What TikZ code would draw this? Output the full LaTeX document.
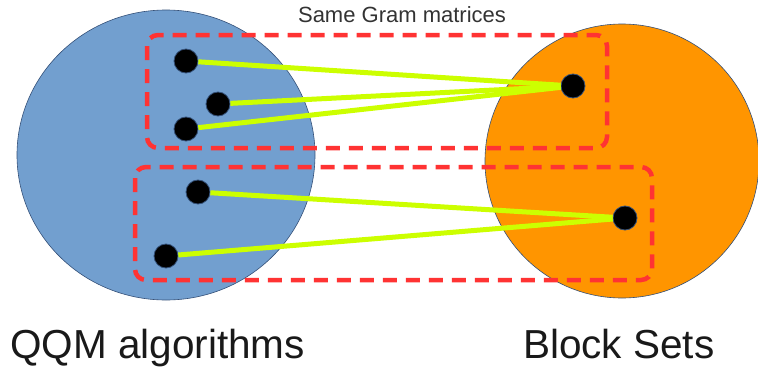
\documentclass[tikz,border=0pt]{standalone}
\usepackage{fontspec}
\setmainfont{Liberation Sans}
\usetikzlibrary{positioning}
\definecolor{qqmblue}{RGB}{114,159,207}
\definecolor{blockorange}{RGB}{255,149,0}
\definecolor{linkgreen}{RGB}{204,255,0}
\definecolor{groupred}{RGB}{255,51,51}
\definecolor{rimblue}{RGB}{52,80,120}
\begin{document}
\begin{tikzpicture}[x=1pt, y=-1pt,
    dot/.style={circle, fill=black, draw=rimblue, line width=0.8pt, minimum size=24pt, inner sep=0pt},
    link/.style={draw=linkgreen, line width=5pt},
    groupbox/.style={draw=groupred, line width=4.5pt, dash pattern=on 14pt off 9pt, rounded corners=11pt}]
    \useasboundingbox (0,0) rectangle (758,370);
    % the two sets
    \draw[fill=qqmblue, draw=rimblue, line width=0.6pt] (166,155) ellipse [x radius=149, y radius=145];
    \draw[fill=blockorange, draw=rimblue, line width=0.6pt] (622,161) ellipse [x radius=137, y radius=137];
    % elements
    \node[dot] (q1) at (186,61) {};
    \node[dot] (q2) at (218,104) {};
    \node[dot] (q3) at (186,129) {};
    \node[dot] (q4) at (198,192) {};
    \node[dot] (q5) at (166,256) {};
    \node[dot] (b1) at (573,86) {};
    \node[dot] (b2) at (625,218) {};
    % maps
    \foreach \q in {q1,q2,q3} \draw[link] (\q) -- (b1);
    \foreach \q in {q4,q5} \draw[link] (\q) -- (b2);
    % groups
    \draw[groupbox] (147,35) rectangle (607,148);
    \draw[groupbox] (135,167) rectangle (652,280);
    % labels
    \node[anchor=base, text=black!80, font=\fontsize{22}{26}\selectfont] (gram) at (402,22) {Same Gram matrices};
    \node[anchor=base west, inner sep=0pt, text=black!90, font=\fontsize{40.5}{48}\selectfont] (qqm) at (10,358) {QQM algorithms};
    \node[anchor=base west, inner sep=0pt, text=black!90, font=\fontsize{40.5}{48}\selectfont] (blocks) at (523,358) {Block Sets};
\end{tikzpicture}
\end{document}
